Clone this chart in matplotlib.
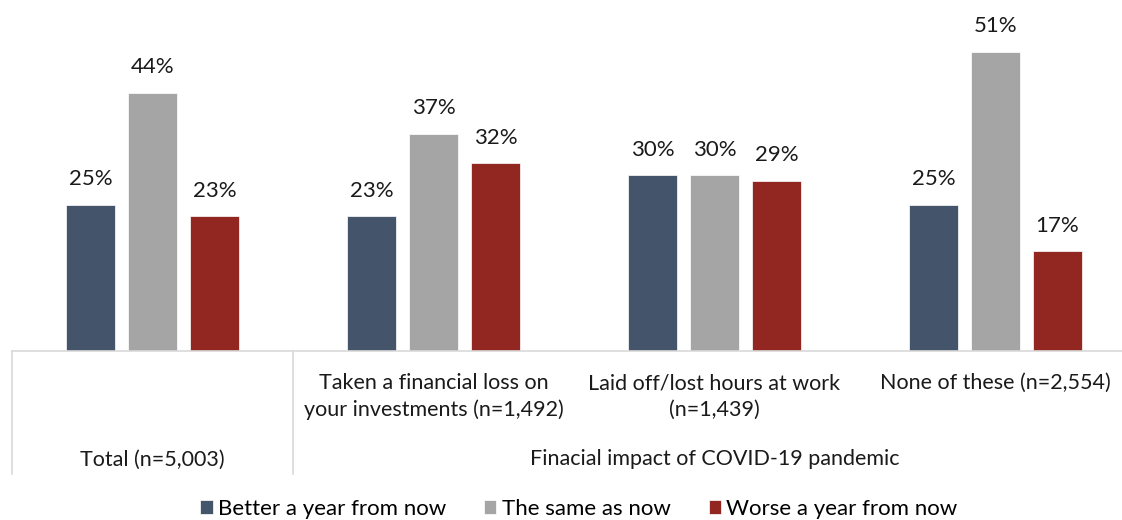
import matplotlib.pyplot as plt
import matplotlib.transforms as mtransforms
from matplotlib.lines import Line2D
import numpy as np

plt.rcParams['font.family'] = ['Lato', 'DejaVu Sans']

# Data.
groups = ["Total (n=5,003)",
          "Taken a financial loss on\nyour investments (n=1,492)",
          "Laid off/lost hours at work\n(n=1,439)",
          "None of these (n=2,554)"]
series = ["Better a year from now", "The same as now", "Worse a year from now"]
better = [25, 23, 30, 25]
same = [44, 37, 30, 51]
worse = [23, 32, 29, 17]
colors = ["#44546a", "#a5a5a5", "#922722"]
group_title = "Finacial impact of COVID-19 pandemic"

W, H = 1122, 520
fig = plt.figure(figsize=(W / 100, H / 100), dpi=100)
base_y = 351
ax = fig.add_axes([12 / W, 1 - base_y / H, (W - 12) / W, base_y / H])

x = np.arange(len(groups))
bw = 49 / 281
step = 62 / 281
for i, (vals, c, name) in enumerate(zip([better, same, worse], colors, series)):
    pos = x + (i - 1) * step
    ax.bar(pos, vals, width=bw, color=c, label=name,
           edgecolor="white", linewidth=0.5)
    # Value labels above each bar.
    for p, v in zip(pos, vals):
        ax.annotate(f"{v}%", (p, v), xytext=(0, 18.5), textcoords="offset points",
                    ha="center", va="center", fontsize=16, color="#1a1a1a")

ax.set_xlim(-0.5, -0.5 + (W - 12) / 281)
ax.set_ylim(0, base_y / 5.86)
for s in ["top", "right", "left"]:
    ax.spines[s].set_visible(False)
ax.spines["bottom"].set_color("#d9d9d9")
ax.spines["bottom"].set_linewidth(1.2)
ax.set_xticks([])
ax.set_yticks([])

# Category table below the axis.
trans = mtransforms.blended_transform_factory(ax.transData, fig.transFigure)
for xv in [-0.5, 0.5]:
    fig.add_artist(Line2D([xv, xv], [1 - base_y / H, 1 - 474 / H],
                          transform=trans, color="#d9d9d9", lw=1.2))

ax.text(0, 1 - 460 / H, groups[0], transform=trans, ha="center", va="center",
        fontsize=15.5, color="#1a1a1a")
for i in range(1, 4):
    for j, line in enumerate(groups[i].split("\n")):
        ax.text(x[i], 1 - (383 + 27 * j) / H, line, transform=trans,
                ha="center", va="center", fontsize=15.5, color="#1a1a1a")
ax.text(x[1:].mean(), 1 - 459 / H, group_title, transform=trans, ha="center",
        va="center", fontsize=15.5, color="#1a1a1a")

fig.legend(loc="center", bbox_to_anchor=(579 / W, 1 - 509 / H), ncol=3,
           frameon=False, fontsize=16, handlelength=0.55, handleheight=0.55,
           columnspacing=1.7, handletextpad=0.25)

fig.savefig("out.png", dpi=100)
